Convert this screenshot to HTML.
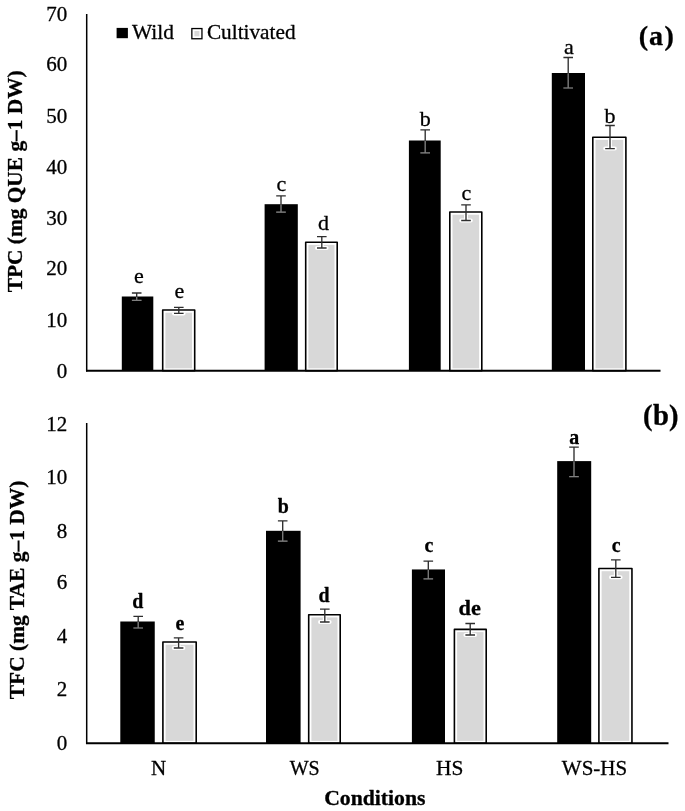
<!DOCTYPE html>
<html><head><meta charset="utf-8"><title>chart</title>
<style>
html,body{margin:0;padding:0;background:#fff;}
body{width:685px;height:811px;overflow:hidden;font-family:"Liberation Serif",serif;}
svg{display:block;will-change:transform;filter:grayscale(1);}
svg text{font-family:"Liberation Serif",serif;fill:#000;stroke:#000;stroke-width:0.3px;stroke-linejoin:round;}
</style></head><body>
<svg width="685" height="811" viewBox="0 0 685 811">
<rect x="0" y="0" width="685" height="811" fill="#fff"/>
<rect x="121.80" y="296.50" width="31.50" height="74.20" fill="#000"/>
<rect x="161.90" y="309.20" width="33.60" height="61.50" fill="#fff"/>
<clipPath id="ca1"><rect x="165.40" y="312.70" width="26.60" height="55.60"/></clipPath>
<rect x="165.40" y="312.70" width="26.60" height="55.60" fill="#d8d8d8"/>
<path d="M174.00 307.40H183.60M174.00 313.40H183.60M178.80 307.40V313.40" clip-path="url(#ca1)" stroke="#fff" stroke-width="4.0" stroke-linecap="round" fill="none"/>
<rect x="162.70" y="310.00" width="32.00" height="60.70" fill="none" stroke="#000" stroke-width="1.6" stroke-linejoin="round"/>
<rect x="264.60" y="204.20" width="33.20" height="166.50" fill="#000"/>
<rect x="304.90" y="241.40" width="33.10" height="129.30" fill="#fff"/>
<clipPath id="ca3"><rect x="308.40" y="244.90" width="26.10" height="123.40"/></clipPath>
<rect x="308.40" y="244.90" width="26.10" height="123.40" fill="#d8d8d8"/>
<path d="M317.00 236.60H326.60M317.00 248.00H326.60M321.80 236.60V248.00" clip-path="url(#ca3)" stroke="#fff" stroke-width="4.0" stroke-linecap="round" fill="none"/>
<rect x="305.70" y="242.20" width="31.50" height="128.50" fill="none" stroke="#000" stroke-width="1.6" stroke-linejoin="round"/>
<rect x="408.90" y="140.50" width="31.80" height="230.20" fill="#000"/>
<rect x="449.00" y="211.20" width="33.60" height="159.50" fill="#fff"/>
<clipPath id="ca5"><rect x="452.50" y="214.70" width="26.60" height="153.60"/></clipPath>
<rect x="452.50" y="214.70" width="26.60" height="153.60" fill="#d8d8d8"/>
<path d="M461.20 204.80H470.80M461.20 220.50H470.80M466.00 204.80V220.50" clip-path="url(#ca5)" stroke="#fff" stroke-width="4.0" stroke-linecap="round" fill="none"/>
<rect x="449.80" y="212.00" width="32.00" height="158.70" fill="none" stroke="#000" stroke-width="1.6" stroke-linejoin="round"/>
<rect x="551.80" y="73.00" width="33.20" height="297.70" fill="#000"/>
<rect x="592.00" y="136.40" width="34.70" height="234.30" fill="#fff"/>
<clipPath id="ca7"><rect x="595.50" y="139.90" width="27.70" height="228.40"/></clipPath>
<rect x="595.50" y="139.90" width="27.70" height="228.40" fill="#d8d8d8"/>
<path d="M605.20 125.50H614.80M605.20 148.60H614.80M610.00 125.50V148.60" clip-path="url(#ca7)" stroke="#fff" stroke-width="4.0" stroke-linecap="round" fill="none"/>
<rect x="592.80" y="137.20" width="33.10" height="233.50" fill="none" stroke="#000" stroke-width="1.6" stroke-linejoin="round"/>
<line x1="86.7" y1="14" x2="86.7" y2="371.5" stroke="#000" stroke-width="1.5"/>
<line x1="86.0" y1="370.7" x2="660.5" y2="370.7" stroke="#000" stroke-width="1.9"/>
<path d="M131.90 293.00H141.50M131.90 300.30H141.50M136.70 293.00V300.30" stroke="#2e2e2e" stroke-width="1.35" fill="none"/>
<clipPath id="ka0"><rect x="121.80" y="296.90" width="31.50" height="74.20"/></clipPath>
<path d="M131.90 293.00H141.50M131.90 300.30H141.50M136.70 293.00V300.30" clip-path="url(#ka0)" stroke="#808080" stroke-width="1.2" fill="none"/>
<path d="M174.00 307.40H183.60M174.00 313.40H183.60M178.80 307.40V313.40" stroke="#2e2e2e" stroke-width="1.35" fill="none"/>
<path d="M276.20 195.90H285.80M276.20 212.20H285.80M281.00 195.90V212.20" stroke="#2e2e2e" stroke-width="1.35" fill="none"/>
<clipPath id="ka2"><rect x="264.60" y="204.60" width="33.20" height="166.50"/></clipPath>
<path d="M276.20 195.90H285.80M276.20 212.20H285.80M281.00 195.90V212.20" clip-path="url(#ka2)" stroke="#808080" stroke-width="1.2" fill="none"/>
<path d="M317.00 236.60H326.60M317.00 248.00H326.60M321.80 236.60V248.00" stroke="#2e2e2e" stroke-width="1.35" fill="none"/>
<path d="M420.40 129.80H430.00M420.40 152.80H430.00M425.20 129.80V152.80" stroke="#2e2e2e" stroke-width="1.35" fill="none"/>
<clipPath id="ka4"><rect x="408.90" y="140.90" width="31.80" height="230.20"/></clipPath>
<path d="M420.40 129.80H430.00M420.40 152.80H430.00M425.20 129.80V152.80" clip-path="url(#ka4)" stroke="#808080" stroke-width="1.2" fill="none"/>
<path d="M461.20 204.80H470.80M461.20 220.50H470.80M466.00 204.80V220.50" stroke="#2e2e2e" stroke-width="1.35" fill="none"/>
<path d="M563.40 57.50H573.00M563.40 88.00H573.00M568.20 57.50V88.00" stroke="#2e2e2e" stroke-width="1.35" fill="none"/>
<clipPath id="ka6"><rect x="551.80" y="73.40" width="33.20" height="297.70"/></clipPath>
<path d="M563.40 57.50H573.00M563.40 88.00H573.00M568.20 57.50V88.00" clip-path="url(#ka6)" stroke="#808080" stroke-width="1.2" fill="none"/>
<path d="M605.20 125.50H614.80M605.20 148.60H614.80M610.00 125.50V148.60" stroke="#2e2e2e" stroke-width="1.35" fill="none"/>
<text x="138.85" y="283.40" text-anchor="middle" font-size="22" font-weight="normal">e</text>
<text x="179.30" y="297.60" text-anchor="middle" font-size="22" font-weight="normal">e</text>
<text x="281.40" y="191.10" text-anchor="middle" font-size="22" font-weight="normal">c</text>
<text x="323.60" y="229.50" text-anchor="middle" font-size="22" font-weight="normal">d</text>
<text x="425.20" y="125.70" text-anchor="middle" font-size="22" font-weight="normal">b</text>
<text x="466.30" y="199.50" text-anchor="middle" font-size="22" font-weight="normal">c</text>
<text x="568.80" y="53.50" text-anchor="middle" font-size="22" font-weight="normal">a</text>
<text x="610.00" y="122.60" text-anchor="middle" font-size="22" font-weight="normal">b</text>
<text x="67.3" y="377.50" text-anchor="end" font-size="21">0</text>
<text x="67.3" y="326.95" text-anchor="end" font-size="21">10</text>
<text x="67.3" y="274.85" text-anchor="end" font-size="21">20</text>
<text x="67.3" y="224.50" text-anchor="end" font-size="21">30</text>
<text x="67.3" y="173.70" text-anchor="end" font-size="21">40</text>
<text x="67.3" y="123.40" text-anchor="end" font-size="21">50</text>
<text x="67.3" y="71.20" text-anchor="end" font-size="21">60</text>
<text x="67.3" y="20.80" text-anchor="end" font-size="21">70</text>
<rect x="120.30" y="621.50" width="34.45" height="121.80" fill="#000"/>
<rect x="162.10" y="641.20" width="34.90" height="102.10" fill="#fff"/>
<clipPath id="cb1"><rect x="165.60" y="644.70" width="27.90" height="96.20"/></clipPath>
<rect x="165.60" y="644.70" width="27.90" height="96.20" fill="#d8d8d8"/>
<path d="M173.80 637.90H183.40M173.80 648.00H183.40M178.60 637.90V648.00" clip-path="url(#cb1)" stroke="#fff" stroke-width="4.0" stroke-linecap="round" fill="none"/>
<rect x="162.90" y="642.00" width="33.30" height="101.30" fill="none" stroke="#000" stroke-width="1.6" stroke-linejoin="round"/>
<rect x="266.00" y="530.80" width="34.60" height="212.50" fill="#000"/>
<rect x="307.90" y="613.90" width="33.10" height="129.40" fill="#fff"/>
<clipPath id="cb3"><rect x="311.40" y="617.40" width="26.10" height="123.50"/></clipPath>
<rect x="311.40" y="617.40" width="26.10" height="123.50" fill="#d8d8d8"/>
<path d="M320.00 609.05H329.60M320.00 622.00H329.60M324.80 609.05V622.00" clip-path="url(#cb3)" stroke="#fff" stroke-width="4.0" stroke-linecap="round" fill="none"/>
<rect x="308.70" y="614.70" width="31.50" height="128.60" fill="none" stroke="#000" stroke-width="1.6" stroke-linejoin="round"/>
<rect x="411.90" y="569.45" width="33.10" height="173.85" fill="#000"/>
<rect x="453.60" y="628.60" width="33.40" height="114.70" fill="#fff"/>
<clipPath id="cb5"><rect x="457.10" y="632.10" width="26.40" height="108.80"/></clipPath>
<rect x="457.10" y="632.10" width="26.40" height="108.80" fill="#d8d8d8"/>
<path d="M465.40 623.50H475.00M465.40 635.00H475.00M470.20 623.50V635.00" clip-path="url(#cb5)" stroke="#fff" stroke-width="4.0" stroke-linecap="round" fill="none"/>
<rect x="454.40" y="629.40" width="31.80" height="113.90" fill="none" stroke="#000" stroke-width="1.6" stroke-linejoin="round"/>
<rect x="557.20" y="461.10" width="34.00" height="282.20" fill="#000"/>
<rect x="598.10" y="567.70" width="34.65" height="175.60" fill="#fff"/>
<clipPath id="cb7"><rect x="601.60" y="571.20" width="27.65" height="169.70"/></clipPath>
<rect x="601.60" y="571.20" width="27.65" height="169.70" fill="#d8d8d8"/>
<path d="M611.00 559.90H620.60M611.00 577.30H620.60M615.80 559.90V577.30" clip-path="url(#cb7)" stroke="#fff" stroke-width="4.0" stroke-linecap="round" fill="none"/>
<rect x="598.90" y="568.50" width="33.05" height="174.80" fill="none" stroke="#000" stroke-width="1.6" stroke-linejoin="round"/>
<line x1="86.7" y1="423.0" x2="86.7" y2="744.0999999999999" stroke="#000" stroke-width="1.5"/>
<line x1="86.0" y1="743.3" x2="668.5" y2="743.3" stroke="#000" stroke-width="1.9"/>
<path d="M133.40 616.30H143.00M133.40 628.00H143.00M138.20 616.30V628.00" stroke="#2e2e2e" stroke-width="1.35" fill="none"/>
<clipPath id="kb0"><rect x="120.30" y="621.90" width="34.45" height="121.80"/></clipPath>
<path d="M133.40 616.30H143.00M133.40 628.00H143.00M138.20 616.30V628.00" clip-path="url(#kb0)" stroke="#808080" stroke-width="1.2" fill="none"/>
<path d="M173.80 637.90H183.40M173.80 648.00H183.40M178.60 637.90V648.00" stroke="#2e2e2e" stroke-width="1.35" fill="none"/>
<path d="M277.90 520.80H287.50M277.90 541.20H287.50M282.70 520.80V541.20" stroke="#2e2e2e" stroke-width="1.35" fill="none"/>
<clipPath id="kb2"><rect x="266.00" y="531.20" width="34.60" height="212.50"/></clipPath>
<path d="M277.90 520.80H287.50M277.90 541.20H287.50M282.70 520.80V541.20" clip-path="url(#kb2)" stroke="#808080" stroke-width="1.2" fill="none"/>
<path d="M320.00 609.05H329.60M320.00 622.00H329.60M324.80 609.05V622.00" stroke="#2e2e2e" stroke-width="1.35" fill="none"/>
<path d="M423.50 561.10H433.10M423.50 578.80H433.10M428.30 561.10V578.80" stroke="#2e2e2e" stroke-width="1.35" fill="none"/>
<clipPath id="kb4"><rect x="411.90" y="569.85" width="33.10" height="173.85"/></clipPath>
<path d="M423.50 561.10H433.10M423.50 578.80H433.10M428.30 561.10V578.80" clip-path="url(#kb4)" stroke="#808080" stroke-width="1.2" fill="none"/>
<path d="M465.40 623.50H475.00M465.40 635.00H475.00M470.20 623.50V635.00" stroke="#2e2e2e" stroke-width="1.35" fill="none"/>
<path d="M569.20 447.10H578.80M569.20 476.60H578.80M574.00 447.10V476.60" stroke="#2e2e2e" stroke-width="1.35" fill="none"/>
<clipPath id="kb6"><rect x="557.20" y="461.50" width="34.00" height="282.20"/></clipPath>
<path d="M569.20 447.10H578.80M569.20 476.60H578.80M574.00 447.10V476.60" clip-path="url(#kb6)" stroke="#808080" stroke-width="1.2" fill="none"/>
<path d="M611.00 559.90H620.60M611.00 577.30H620.60M615.80 559.90V577.30" stroke="#2e2e2e" stroke-width="1.35" fill="none"/>
<text x="137.80" y="607.70" text-anchor="middle" font-size="19.9" font-weight="bold">d</text>
<text x="179.85" y="629.50" text-anchor="middle" font-size="19.9" font-weight="bold">e</text>
<text x="283.25" y="512.60" text-anchor="middle" font-size="19.9" font-weight="bold">b</text>
<text x="324.10" y="602.00" text-anchor="middle" font-size="19.9" font-weight="bold">d</text>
<text x="428.90" y="551.85" text-anchor="middle" font-size="19.9" font-weight="bold">c</text>
<text x="469.75" y="615.10" text-anchor="middle" font-size="19.9" font-weight="bold" textLength="22.3" lengthAdjust="spacingAndGlyphs">de</text>
<text x="574.35" y="443.50" text-anchor="middle" font-size="19.9" font-weight="bold">a</text>
<text x="616.20" y="551.60" text-anchor="middle" font-size="19.9" font-weight="bold">c</text>
<text x="67.3" y="749.75" text-anchor="end" font-size="21">0</text>
<text x="67.3" y="696.20" text-anchor="end" font-size="21">2</text>
<text x="67.3" y="643.00" text-anchor="end" font-size="21">4</text>
<text x="67.3" y="589.35" text-anchor="end" font-size="21">6</text>
<text x="67.3" y="537.75" text-anchor="end" font-size="21">8</text>
<text x="67.3" y="484.20" text-anchor="end" font-size="21">10</text>
<text x="67.3" y="430.80" text-anchor="end" font-size="21">12</text>
<rect x="116.6" y="27.9" width="11.3" height="10.3" fill="#000"/>
<rect x="191.2" y="27.9" width="11.4" height="11.5" fill="#000"/>
<rect x="192.5" y="29.2" width="8.8" height="8.9" fill="#fff"/>
<rect x="194.4" y="31.0" width="5.0" height="5.3" fill="#d8d8d8"/>
<text x="132.0" y="39.4" font-size="21" textLength="42.0" lengthAdjust="spacingAndGlyphs">Wild</text>
<text x="206.9" y="39.4" font-size="21" textLength="88.7" lengthAdjust="spacingAndGlyphs">Cultivated</text>
<text y="45.0" font-size="28.1" font-weight="bold"><tspan x="638.8">(</tspan><tspan x="648.9">a</tspan><tspan x="664.4">)</tspan></text>
<text y="424.8" font-size="28.6" font-weight="bold"><tspan x="643.1">(</tspan><tspan x="653.0">b</tspan><tspan x="668.9">)</tspan></text>
<text transform="translate(21.9,181.3) rotate(-90)" text-anchor="middle" font-size="21.2" font-weight="bold" textLength="222" lengthAdjust="spacingAndGlyphs">TPC (mg QUE g–1 DW)</text>
<text transform="translate(23.5,589.9) rotate(-90)" text-anchor="middle" font-size="21.2" font-weight="bold" textLength="218.8" lengthAdjust="spacingAndGlyphs">TFC (mg TAE g–1 DW)</text>
<text x="158.6" y="774.5" text-anchor="middle" font-size="21">N</text>
<text x="304.7" y="774.5" text-anchor="middle" font-size="21" textLength="30.0" lengthAdjust="spacingAndGlyphs">WS</text>
<text x="449.8" y="774.5" text-anchor="middle" font-size="21" textLength="27.4" lengthAdjust="spacingAndGlyphs">HS</text>
<text x="594.5" y="774.5" text-anchor="middle" font-size="21">WS-HS</text>
<text x="374.85" y="804.7" text-anchor="middle" font-size="20.2" font-weight="bold" textLength="101.3" lengthAdjust="spacingAndGlyphs">Conditions</text>
</svg>
</body></html>
